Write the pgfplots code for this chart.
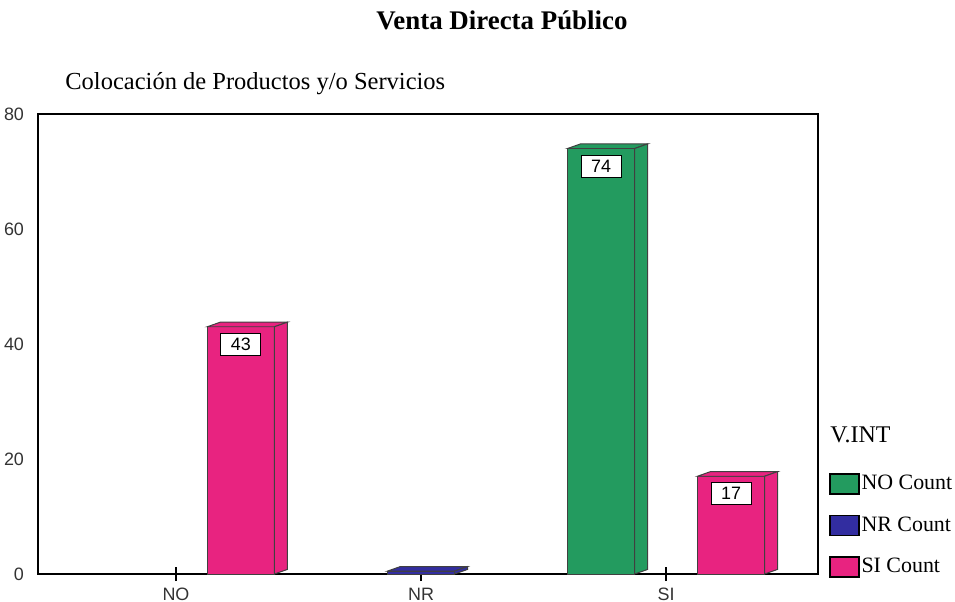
\documentclass[border=0pt]{standalone}
\usepackage{fontspec}
\setmainfont{Liberation Serif}
\setsansfont{Liberation Sans}
\usepackage{pgfplots}
\pgfplotsset{compat=1.18}
\definecolor{cgreen}{RGB}{35,155,95}
\definecolor{cblue}{RGB}{50,45,160}
\definecolor{cpink}{RGB}{232,35,128}
\pgfplotsset{
  mylegend/.style={legend image code/.code={\draw[##1,draw=black,line width=0.6pt] (0bp,-5bp) rectangle (14.5bp,5bp);}},
  mybar/.style={ybar, bar width=0.274, draw=black!75, line width=0.5pt},
  face/.style={draw=black!75, line width=0.5pt, forget plot, mark=none},
  barlabel/.style={nodes near coords, every node near coord/.append style={anchor=north, xshift=#1, yshift=-3bp, fill=white, draw=black, line width=0.5pt, minimum width=20bp, minimum height=11bp, inner sep=0pt, font=\sffamily\fontsize{9}{10}\selectfont, text=black}},
}
\begin{document}
\begin{tikzpicture}
\useasboundingbox (-19bp,-14bp) rectangle (458.5bp,287bp);
\begin{axis}[
  scale only axis, width=390bp, height=230bp,
  xmin=-0.563, xmax=2.62, ymin=0, ymax=80,
  xtick={0,1,2}, xticklabels={NO,NR,SI},
  ytick={0,20,40,60,80},
  tick pos=left,
  y tick style={draw=none},
  x tick style={line width=1pt, black},
  major tick length=7bp, tick align=center,
  ticklabel style={font=\sffamily\fontsize{9}{10}\selectfont, text=black!80},
  /pgf/number format/assume math mode=true,
  axis line style={line width=0.6pt},
  clip=false,
  legend style={at={(1.014,0.22)}, anchor=north west, draw=none, fill=none,
    inner sep=0pt, row sep=10bp, nodes={inner sep=1bp},
    font=\fontsize{11}{12}\selectfont},
  legend cell align=left,
]
\addplot[mybar, bar shift=-0.265, fill=cgreen, mylegend, barlabel=-32.5bp]
  coordinates {(2,74)};
\addlegendentry{NO Count}
\addplot[mybar, bar shift=0, fill=cblue, mylegend] coordinates {(1,0.5)};
\addlegendentry{NR Count}
\addplot[mybar, bar shift=0.265, fill=cpink, mylegend, barlabel=32.5bp]
  coordinates {(0,43) (2,17)};
\addlegendentry{SI Count}
% 3D top and side faces
\addplot[face, fill=cgreen] coordinates {(1.598,74) (1.651,74.8) (1.925,74.8) (1.872,74)} -- cycle;
\addplot[face, fill=cgreen] coordinates {(1.872,0) (1.925,0.8) (1.925,74.8) (1.872,74)} -- cycle;
\addplot[face, fill=cblue] coordinates {(0.863,0.5) (0.916,1.3) (1.19,1.3) (1.137,0.5)} -- cycle;
\addplot[face, fill=cblue] coordinates {(1.137,0) (1.19,0.8) (1.19,1.3) (1.137,0.5)} -- cycle;
\addplot[face, fill=cpink] coordinates {(0.128,43) (0.181,43.8) (0.455,43.8) (0.402,43)} -- cycle;
\addplot[face, fill=cpink] coordinates {(0.402,0) (0.455,0.8) (0.455,43.8) (0.402,43)} -- cycle;
\addplot[face, fill=cpink] coordinates {(2.128,17) (2.181,17.8) (2.455,17.8) (2.402,17)} -- cycle;
\addplot[face, fill=cpink] coordinates {(2.402,0) (2.455,0.8) (2.455,17.8) (2.402,17)} -- cycle;
\end{axis}
\node[font=\bfseries\fontsize{13.5}{15}\selectfont] at (232bp,277bp) {Venta Directa Público};
\node[anchor=west, inner sep=0pt, font=\fontsize{12.3}{14}\selectfont] at (13.5bp,245bp) {Colocación de Productos y/o Servicios};
\node[anchor=west, inner sep=0pt, font=\fontsize{12}{14}\selectfont] at (396bp,69.5bp) {V.INT};
\end{tikzpicture}
\end{document}
